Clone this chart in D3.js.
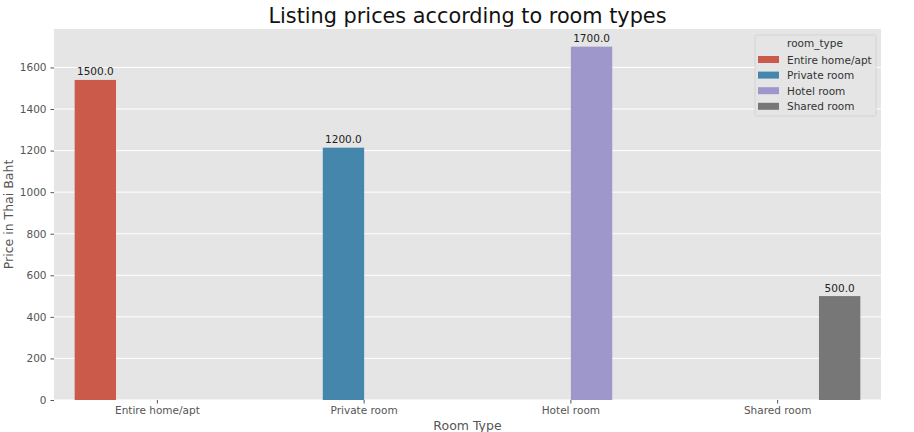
<!DOCTYPE html>
<html>
<head>
<meta charset="utf-8">
<script src="https://cdn.jsdelivr.net/npm/d3@7"></script>
<style>
  body { margin: 0; background: #fff; }
  svg { font-family: "DejaVu Sans", sans-serif; }
</style>
</head>
<body>
<svg id="chart"></svg>
<script>
// data
const roomTypes = ["Entire home/apt", "Private room", "Hotel room", "Shared room"];
const barValues = [1540, 1214, 1700, 500];
const labelValues = [1500.0, 1200.0, 1700.0, 500.0];
const yTicks = [0, 200, 400, 600, 800, 1000, 1200, 1400, 1600];
const colors = ["#cb5a4a", "#4586ac", "#9e97cc", "#777777"];

const dims = { width: 914, height: 432 };
const margin = { top: 29, right: 33, bottom: 32, left: 54 };
const w = dims.width - margin.left - margin.right;
const h = dims.height - margin.top - margin.bottom;

const svg = d3.select("#chart")
    .attr("width", dims.width)
    .attr("height", dims.height);

const x = d3.scaleBand().domain(roomTypes).range([0, w]);
// hue offset inside each category band (seaborn dodge, 0.8 total width)
const xHue = d3.scaleBand().domain(roomTypes).range([x.bandwidth() * 0.1, x.bandwidth() * 0.9]);
const y = d3.scaleLinear().domain([0, d3.max(barValues) * 1.05]).range([h, 0]);

const graph = svg.append("g")
    .attr("transform", `translate(${margin.left},${margin.top})`);

graph.append("rect")
    .attr("width", w).attr("height", h)
    .attr("fill", "#e5e5e5");

// horizontal grid only
graph.selectAll(".hgrid").data(yTicks).enter().append("line")
    .attr("x1", 0).attr("x2", w)
    .attr("y1", d => y(d)).attr("y2", d => y(d))
    .attr("stroke", "#fff").attr("stroke-width", 1);

// bars: each category only has its own hue level
graph.selectAll(".bar").data(roomTypes).enter().append("rect")
    .attr("x", d => x(d) + xHue(d))
    .attr("width", xHue.bandwidth())
    .attr("y", (d, i) => y(barValues[i]))
    .attr("height", (d, i) => h - y(barValues[i]))
    .attr("fill", (d, i) => colors[i]);

graph.selectAll(".lbl").data(roomTypes).enter().append("text")
    .attr("x", d => x(d) + xHue(d) + xHue.bandwidth() / 2)
    .attr("y", (d, i) => y(barValues[i]) - 4.5)
    .attr("text-anchor", "middle")
    .attr("font-size", 10.5)
    .attr("fill", "#222")
    .text((d, i) => labelValues[i].toFixed(1));

// axes
const yAxis = graph.append("g")
    .call(d3.axisLeft(y).tickValues(yTicks).tickFormat(d3.format("d")).tickSize(3.5).tickPadding(4));
const xAxis = graph.append("g")
    .attr("transform", `translate(0,${h})`)
    .call(d3.axisBottom(x).tickSize(3.5).tickPadding(3));
[xAxis, yAxis].forEach(a => {
    a.select(".domain").remove();
    a.selectAll("line").attr("stroke", "#555");
    a.selectAll("text").attr("fill", "#555").attr("font-size", 10.5).attr("font-family", "DejaVu Sans");
});

// titles
svg.append("text")
    .attr("x", margin.left + w / 2).attr("y", 23)
    .attr("text-anchor", "middle")
    .attr("font-size", 20.8).attr("fill", "#111")
    .text("Listing prices according to room types");
svg.append("text")
    .attr("x", margin.left + w / 2).attr("y", 430)
    .attr("text-anchor", "middle")
    .attr("font-size", 12.5).attr("fill", "#555")
    .text("Room Type");
svg.append("text")
    .attr("transform", `translate(13,${margin.top + h / 2}) rotate(-90)`)
    .attr("text-anchor", "middle")
    .attr("font-size", 12.5).attr("fill", "#555")
    .text("Price in Thai Baht");

// legend
const leg = svg.append("g").attr("transform", "translate(755,35)");
leg.append("rect")
    .attr("width", 121).attr("height", 81).attr("rx", 2)
    .attr("fill", "#e5e5e5").attr("stroke", "#d0d0d0").attr("stroke-width", 0.8);
leg.append("text")
    .attr("x", 60).attr("y", 12)
    .attr("text-anchor", "middle")
    .attr("font-size", 10.5).attr("fill", "#333")
    .text("room_type");
const items = leg.selectAll(".item").data(roomTypes).enter().append("g")
    .attr("transform", (d, i) => `translate(3,${24.5 + i * 15.6})`);
items.append("rect")
    .attr("x", 0).attr("y", -3.5).attr("width", 21).attr("height", 7)
    .attr("fill", (d, i) => colors[i]);
items.append("text")
    .attr("x", 29).attr("y", 4)
    .attr("font-size", 10.5).attr("fill", "#333")
    .text(d => d);
</script>
</body>
</html>
